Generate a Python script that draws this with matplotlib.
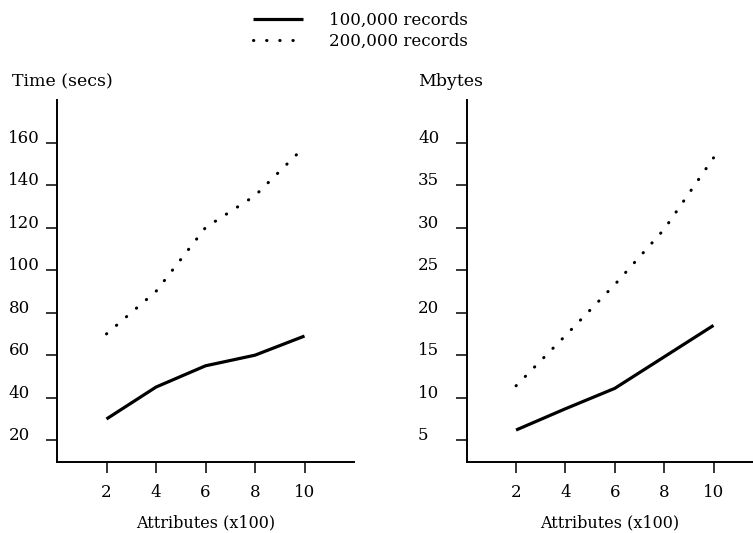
import matplotlib
matplotlib.use("Agg")
import matplotlib.pyplot as plt

plt.rcParams['font.family'] = ['DejaVu Serif']

attributes = [2, 4, 6, 8, 10]

time_100k = [30, 45, 55, 60, 69]
time_200k = [70, 90, 120, 135, 158]

mbytes_100k = [6.2, 8.7, 11.1, 14.8, 18.5]
mbytes_200k = [11.4, 17.3, 23.3, 29.8, 38.2]

time_ticks = [20, 40, 60, 80, 100, 120, 140, 160]
mbytes_ticks = [5, 10, 15, 20, 25, 30, 35, 40]
x_ticks = [2, 4, 6, 8, 10]

labels = ["100,000 records", "200,000 records"]

W, H = 753, 533
fig = plt.figure(figsize=(W / 100, H / 100), dpi=100)

bottom = 1 - 461.5 / H
height = 361.5 / H
ax1 = fig.add_axes([57 / W, bottom, 297 / W, height])
ax2 = fig.add_axes([466.7 / W, bottom, 286.3 / W, height])

solid = dict(color="black", lw=2.3, solid_capstyle="butt")
dotted = dict(color="black", lw=2.2, linestyle=(0, (0.1, 4.2)),
              dash_capstyle="round")


def style(ax, yticks, ylim, xlim):
    ax.set_xlim(*xlim)
    ax.set_ylim(*ylim)
    ax.set_xticks(x_ticks)
    ax.set_yticks(yticks)
    for s in ["top", "right"]:
        ax.spines[s].set_visible(False)
    for s in ["left", "bottom"]:
        ax.spines[s].set_linewidth(1.4)
    ax.tick_params(axis="both", direction="out", length=8, width=1.1,
                   labelsize=12)
    ax.tick_params(axis="x", pad=8)
    ax.tick_params(axis="y", pad=27)
    plt.setp(ax.get_yticklabels(), ha="left", va="baseline")
    ax.set_xlabel("Attributes (x100)", fontsize=11.5, labelpad=10)


l1, = ax1.plot(attributes, time_100k, **solid)
l2, = ax1.plot(attributes, time_200k, **dotted)
style(ax1, time_ticks, (10, 180), (0, 12))

ax2.plot(attributes, mbytes_100k, **solid)
ax2.plot(attributes, mbytes_200k, **dotted)
style(ax2, mbytes_ticks, (2.5, 45), (0, 11.6))

fig.text(12 / W, 1 - 82 / H, "Time (secs)", fontsize=12.5, va="center")
fig.text(418 / W, 1 - 82 / H, "Mbytes", fontsize=12.5, va="center")

fig.legend([l1, l2], labels, loc="upper left", frameon=False,
           bbox_to_anchor=(241 / W, 1.0), borderpad=0.2, fontsize=12,
           handlelength=3.0, handletextpad=1.6, labelspacing=0.25)

fig.savefig("out.png", dpi=100)
